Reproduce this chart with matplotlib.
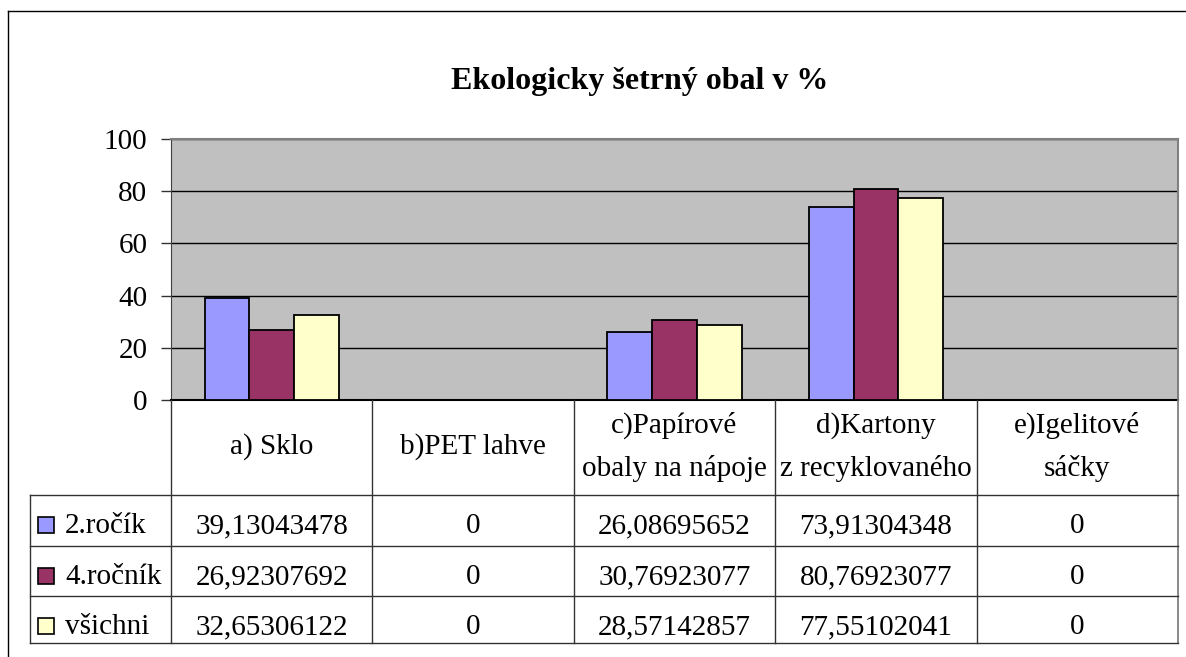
import numpy as np
import matplotlib.pyplot as plt

W, H = 1186, 657

categories = ["a) Sklo", "b)PET lahve", "c)Papírové\nobaly na nápoje",
              "d)Kartony\nz recyklovaného", "e)Igelitové\nsáčky"]
series_names = ["2.ročík", "4.ročník", "všichni"]
rocnik2 = [39.13043478, 0, 26.08695652, 73.91304348, 0]
rocnik4 = [26.92307692, 0, 30.76923077, 80.76923077, 0]
vsichni = [32.65306122, 0, 28.57142857, 77.55102041, 0]
series = [rocnik2, rocnik4, vsichni]
colors = ["#9999FF", "#993366", "#FFFFCC"]

plt.rcParams['font.family'] = ['Liberation Serif', 'DejaVu Serif']

fig = plt.figure(figsize=(W / 100, H / 100), dpi=100)


def px(x0, y0, x1, y1):
    # pixel box (top-left origin) -> figure fraction rect
    return [x0 / W, 1 - y1 / H, (x1 - x0) / W, (y1 - y0) / H]


# outer chart border
fig.add_artist(plt.Line2D([8 / W, 8 / W], [0, 1 - 11 / H], color="black", lw=1))
fig.add_artist(plt.Line2D([8 / W, 1], [1 - 11 / H, 1 - 11 / H], color="black", lw=1))

fig.text(640 / W, 1 - 82 / H, "Ekologicky šetrný obal v %", ha="center", va="center",
         fontsize=23, fontweight="bold")

# plot area
ax = fig.add_axes(px(171, 139, 1178, 400))
ax.set_facecolor("#C0C0C0")
n = len(categories)
x = np.arange(n) + 0.5
bw = 1 / 4.5
for i, (vals, c) in enumerate(zip(series, colors)):
    ax.bar(x + (i - 1) * bw, vals, width=bw, color=c, edgecolor="black", lw=1.3, zorder=3)

ax.set_xlim(0, n)
ax.set_ylim(0, 100)
ax.set_yticks([0, 20, 40, 60, 80, 100])
ax.set_xticks([])
ax.yaxis.grid(True, color="black", lw=1, zorder=1)
ax.tick_params(axis="y", length=7, width=1, pad=10, labelsize=21, color="#333333")
for s in ["top", "right"]:
    ax.spines[s].set_color("#808080")
    ax.spines[s].set_linewidth(1.5)
ax.spines["left"].set_color("#404040")
ax.spines["bottom"].set_color("black")
ax.spines["bottom"].set_linewidth(1.5)

# data table below the plot, sharing the category x scale
cat_px = (1178 - 171) / n
xl = -(171 - 30) / cat_px
tax = fig.add_axes(px(30, 400, 1178, 643))
tax.set_xlim(xl, n)
tax.set_ylim(243, 0)
tax.axis("off")

rows = [0, 95, 146, 196, 243]
lc = "#333333"
for k in range(n + 1):
    tax.plot([k, k], [0, 243], color="#808080" if k == n else lc,
             lw=1.3 if k == n else 1, clip_on=False)
tax.plot([xl, xl], [95, 243], color=lc, lw=1, clip_on=False)
for r in rows[1:]:
    tax.plot([xl, n], [r, r], color=lc, lw=1, clip_on=False)

fs = 21
for k, lab in enumerate(categories):
    tax.text(k + 0.5, 47, lab, ha="center", va="center", fontsize=fs, linespacing=1.75)

for j, (name, vals, c) in enumerate(zip(series_names, series, colors)):
    yb = rows[j + 1] + 38
    tax.add_patch(plt.Rectangle((xl + 8 / cat_px, yb - 16), 16 / cat_px, 16,
                                facecolor=c, edgecolor="black", lw=1.2))
    tax.text(xl + 35 / cat_px, yb, name, ha="left", va="baseline", fontsize=fs)
    for k, v in enumerate(vals):
        s = "0" if v == 0 else f"{v:.8f}".replace(".", ",")
        tax.text(k + 0.5, yb, s, ha="center", va="baseline", fontsize=fs)

fig.savefig("out.png", dpi=100)
